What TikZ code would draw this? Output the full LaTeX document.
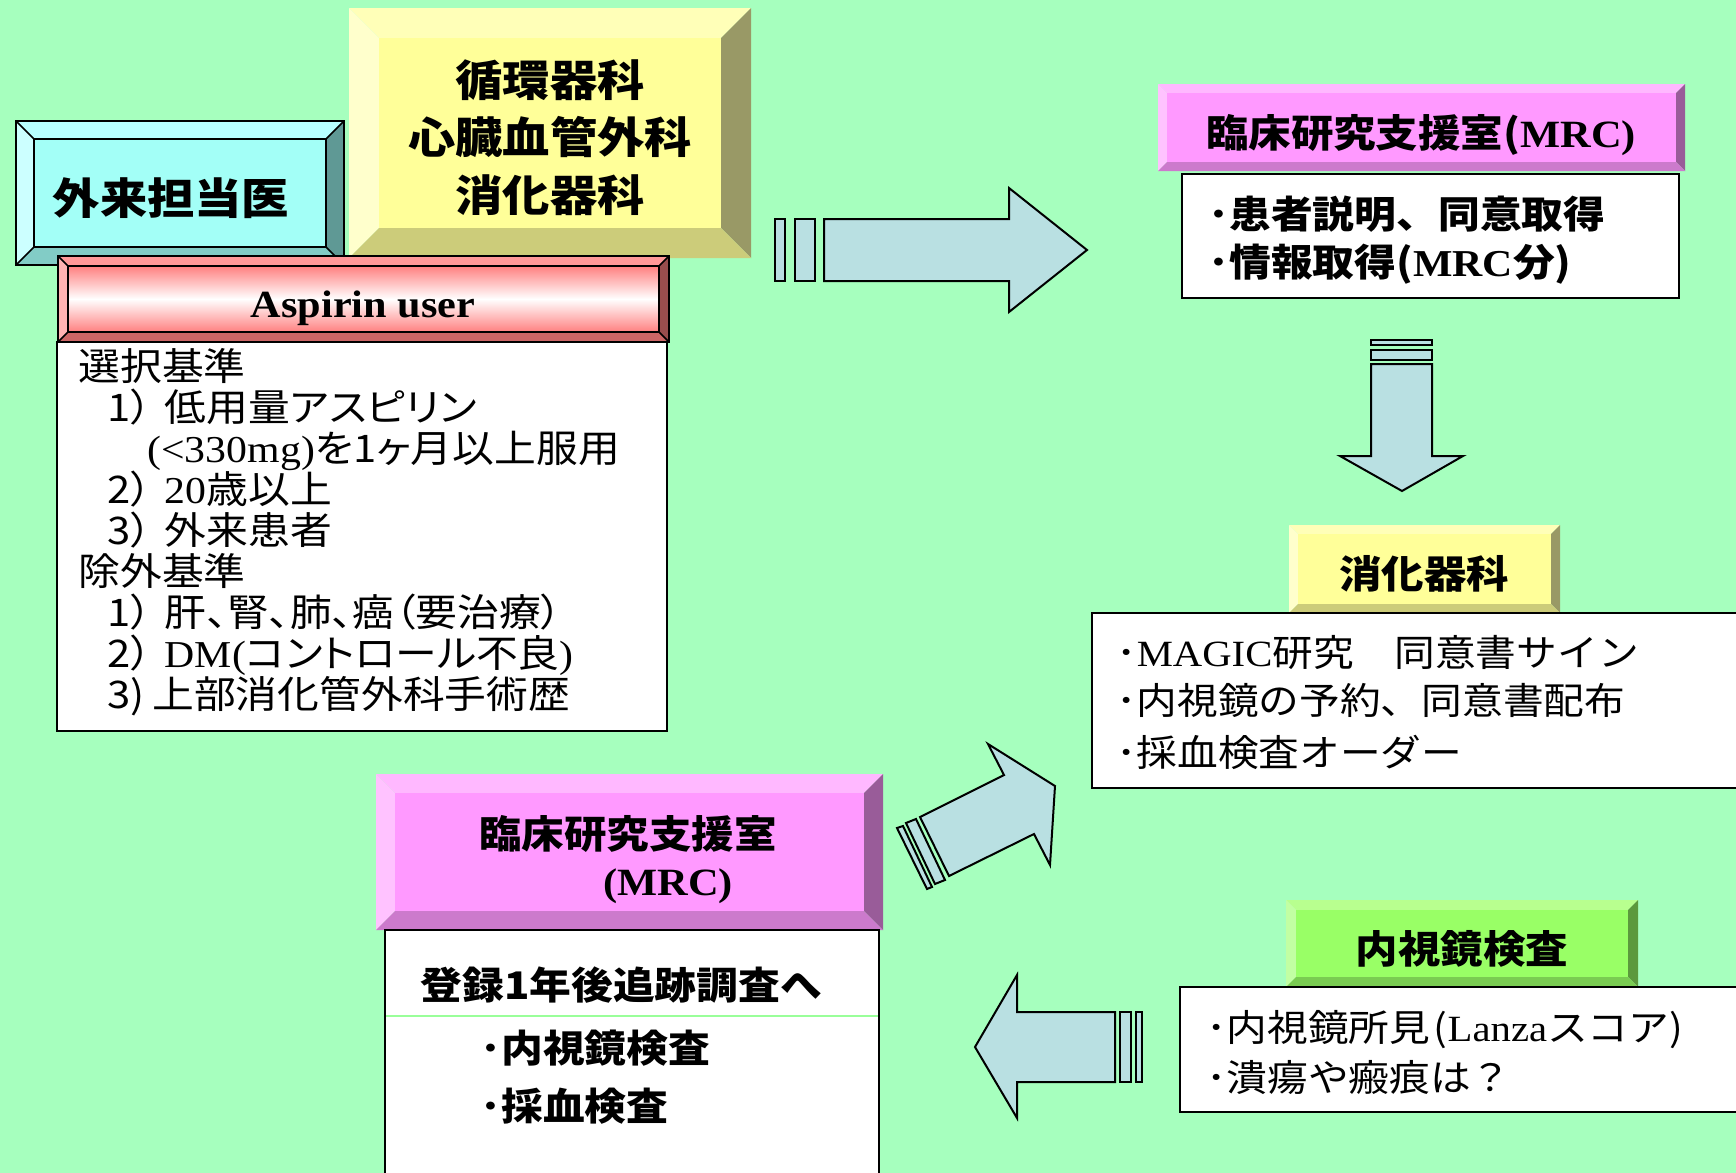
\documentclass[tikz,border=0pt]{standalone}
\usepackage{fontspec}
\setmainfont{Noto Sans CJK JP}[FakeStretch=1.1]
\newfontfamily\tm{Liberation Serif}[FakeStretch=1.1]
\newfontfamily\jpp{Noto Sans CJK JP}[FakeStretch=1.1,RawFeature=+palt]

\definecolor{bg}{HTML}{A6FFBE}
\definecolor{cyF}{HTML}{A3FFF7}\definecolor{cyT}{HTML}{B8FFFF}\definecolor{cyL}{HTML}{CCFFFF}\definecolor{cyR}{HTML}{5F9995}\definecolor{cyB}{HTML}{82CCC6}
\definecolor{ylF}{HTML}{FFFF99}\definecolor{ylT}{HTML}{FFFFB8}\definecolor{ylL}{HTML}{FFFFCC}\definecolor{ylR}{HTML}{999966}\definecolor{ylB}{HTML}{CCCC7A}
\definecolor{pkF}{HTML}{FF99FF}\definecolor{pkT}{HTML}{FFB8FF}\definecolor{pkL}{HTML}{FFC2FF}\definecolor{pkR}{HTML}{995C99}\definecolor{pkB}{HTML}{CC7ACC}
\definecolor{gnF}{HTML}{99FF66}\definecolor{gnT}{HTML}{B8FF8F}\definecolor{gnL}{HTML}{C2FFA3}\definecolor{gnR}{HTML}{5C993D}\definecolor{gnB}{HTML}{7ACC52}
\definecolor{rdF}{HTML}{FF8080}\definecolor{rdT}{HTML}{FF9999}\definecolor{rdL}{HTML}{FFB3B3}\definecolor{rdR}{HTML}{994D4D}\definecolor{rdB}{HTML}{CC6666}
\definecolor{arF}{HTML}{B9E0E2}
\definecolor{sepc}{HTML}{99FF99}

% bevelled box: x1 y1 x2 y2 bevel colourprefix
\newcommand\bevbox[6]{%
  \fill[#6T] (#1,#2) -- (#3,#2) -- ({#3-#5},{#2+#5}) -- ({#1+#5},{#2+#5}) -- cycle;
  \fill[#6L] (#1,#2) -- ({#1+#5},{#2+#5}) -- ({#1+#5},{#4-#5}) -- (#1,#4) -- cycle;
  \fill[#6R] (#3,#2) -- (#3,#4) -- ({#3-#5},{#4-#5}) -- ({#3-#5},{#2+#5}) -- cycle;
  \fill[#6B] (#1,#4) -- (#3,#4) -- ({#3-#5},{#4-#5}) -- ({#1+#5},{#4-#5}) -- cycle;
  \fill[#6F] ({#1+#5},{#2+#5}) rectangle ({#3-#5},{#4-#5});
}

\begin{document}
\begin{tikzpicture}[x=0.5pt,y=-0.5pt,
  arr/.style={draw=black,line width=1pt,fill=arF,line join=miter},
  wbox/.style={draw=black,line width=1pt,fill=white},
  big/.style={anchor=base,inner sep=0pt,font=\fontsize{21.5pt}{23pt}\selectfont\bfseries},
  hd/.style={anchor=base,inner sep=0pt,font=\fontsize{19.3pt}{21pt}\selectfont\bfseries},
  hdl/.style={anchor=base west,inner sep=0pt,font=\fontsize{19pt}{21pt}\selectfont\bfseries},
  crit/.style={anchor=base west,inner sep=0pt,font=\fontsize{19pt}{21pt}\selectfont\jpp},
  txt/.style={anchor=base west,inner sep=0pt,font=\fontsize{18.5pt}{20pt}\selectfont},
]
\fill[bg] (0,0) rectangle (1736,1173);
\useasboundingbox (0,0) rectangle (1736,1173);

% ---- top-left boxes
\bevbox{16}{121}{344}{265}{18}{cy}
\draw[line width=0.8pt] (16,121) rectangle (344,265) (34,139) rectangle (326,247);
\draw[line width=0.8pt] (16,121) -- (34,139) (344,121) -- (326,139) (16,265) -- (34,247) (344,265) -- (326,247);
\node[big] (gairai) at (171,214) {外来担当医};

\bevbox{349}{8}{751}{258}{30}{yl}
\node[big] (junkan) at (550,96) {循環器科};
\node[big] (shinzo) at (550,153) {心臓血管外科};
\node[big] (shoka1) at (550,211) {消化器科};

\bevbox{58}{256}{669}{342}{10}{rd}
\shade[top color=rdF,bottom color=rdF,middle color=white] (68,266) rectangle (659,332);
\draw[line width=0.8pt] (58,256) rectangle (669,342) (68,266) rectangle (659,332);
\draw[line width=0.8pt] (58,256) -- (68,266) (669,256) -- (659,266) (58,342) -- (68,332) (669,342) -- (659,332);
\node[anchor=base,inner sep=0pt,font=\tm\fontsize{19.2pt}{21pt}\selectfont\bfseries] (asp) at (363,317) {Aspirin user};

\draw[wbox] (57,342) rectangle (667,731);
\node[crit] (c1) at (78,380) {選択基準};
\node[crit] (c2) at (107,421) {1）\hspace{0.35em}低用量アスピリン};
\node[crit] (c3) at (147,462) {{\tm (<330mg)}を1ヶ月以上服用};
\node[crit] (c4) at (107,503) {2）\hspace{0.35em}{\tm 20}歳以上};
\node[crit] (c5) at (107,544) {3）\hspace{0.35em}外来患者};
\node[crit] (c6) at (78,585) {除外基準};
\node[crit] (c7) at (107,626) {1）\hspace{0.35em}肝、腎、肺、癌（要治療）};
\node[crit] (c8) at (107,667) {2）\hspace{0.35em}{\tm DM(}コントロール不良{\tm )}};
\node[crit] (c9) at (107,708) {3)\hspace{0.2em}上部消化管外科手術歴};

% ---- right arrow
\draw[arr] (775,219) rectangle (785,281);
\draw[arr] (795,219) rectangle (815,281);
\draw[arr] (824,219) -- (1009,219) -- (1009,188) -- (1087,250) -- (1009,312) -- (1009,281) -- (824,281) -- cycle;

% ---- MRC top
\bevbox{1158}{84}{1685}{171}{9}{pk}
\node[hd] (mrc1) at (1421,147) {臨床研究支援室({\tm MRC)}};
\draw[wbox] (1182,174) rectangle (1679,298);
\node[hdl] (m1) at (1208,228) {･患者説明、同意取得};
\node[hdl] (m2) at (1208,276) {･情報取得({\tm MRC}分)};

% ---- down arrow
\draw[arr] (1371,340) rectangle (1432,345);
\draw[arr] (1371,350) rectangle (1432,360);
\draw[arr] (1371,364) -- (1371,456) -- (1340,456) -- (1402,491) -- (1463,456) -- (1432,456) -- (1432,364) -- cycle;

% ---- gastro
\bevbox{1289}{525}{1560}{613}{9}{yl}
\node[hd] (shoka2) at (1424,588) {消化器科};
\draw[wbox] (1092,613) rectangle (1750,788);
\node[txt] (g1) at (1116,666) {･{\tm MAGIC}研究　同意書サイン};
\node[txt] (g2) at (1116,714) {･内視鏡の予約、同意書配布};
\node[txt] (g3) at (1116,766) {･採血検査オーダー};

% ---- diagonal arrow
\draw[arr] (897,828) -- (903,826) -- (932,887) -- (927,889) -- cycle;
\draw[arr] (906,823) -- (916,819) -- (945,880) -- (935,884) -- cycle;
\draw[arr] (920,817) -- (1004,775) -- (988,744) -- (1055,786) -- (1050,865) -- (1034,834) -- (949,876) -- cycle;

% ---- MRC bottom
\bevbox{376}{774}{883}{930}{19}{pk}
\node[hd] (mrc2) at (628,848) {臨床研究支援室};
\node[anchor=base,inner sep=0pt,font=\tm\fontsize{19.3pt}{21pt}\selectfont\bfseries] (mrc2b) at (668,895) {(MRC)};
\draw[wbox] (385,930) rectangle (879,1190);
\draw[sepc,line width=0.6pt] (386,1016) -- (878,1016);
\node[hdl] (f1) at (420,999) {登録1年後追跡調査へ};
\node[hdl] (f2) at (480,1062) {･内視鏡検査};
\node[hdl] (f3) at (480,1120) {･採血検査};

% ---- endoscopy
\bevbox{1286}{900}{1638}{987}{10}{gn}
\node[hd] (endo) at (1462,963) {内視鏡検査};
\draw[wbox] (1180,987) rectangle (1750,1112);
\node[txt] (e1) at (1206,1041) {･内視鏡所見\hspace{0.1em}({\tm Lanza}スコア)};
\node[txt] (e2) at (1206,1091) {･潰瘍や瘢痕は？};

% ---- left arrow
\draw[arr] (1120,1012) rectangle (1131,1082);
\draw[arr] (1136,1012) rectangle (1142,1082);
\draw[arr] (1115,1012) -- (1017,1012) -- (1017,975) -- (975,1047) -- (1017,1118) -- (1017,1082) -- (1115,1082) -- cycle;
\end{tikzpicture}
\end{document}
